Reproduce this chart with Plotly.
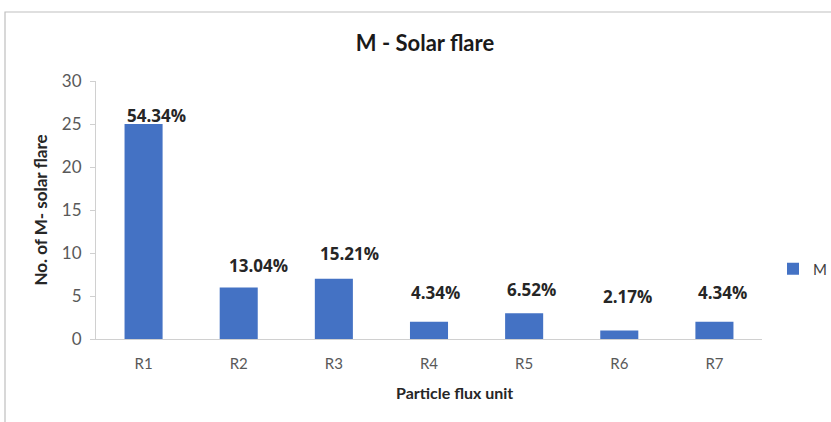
import plotly.graph_objects as go

categories = ["R1", "R2", "R3", "R4", "R5", "R6", "R7"]
counts = [25, 6, 7, 2, 3, 1, 2]
pct_labels = ["54.34%", "13.04%", "15.21%", "4.34%", "6.52%", "2.17%", "4.34%"]
y_ticks = [0, 5, 10, 15, 20, 25, 30]

# label placement (data units), kept separate from data
label_y = [26.0, 8.6, 9.9, 5.35, 5.7, 4.9, 5.35]
label_dx = [0.14, 0.21, 0.16, 0.07, 0.08, 0.09, 0.08]

W, H = 831, 422
L, R, T, B = 96, 69, 81, 83
pw, ph = W - L - R, H - T - B

fig = go.Figure()
fig.add_trace(go.Bar(
    x=list(range(len(categories))), y=counts, name="M",
    marker=dict(color="#4472C4", line=dict(width=0)),
    width=0.4,
))

for i, (lab, ly, dx) in enumerate(zip(pct_labels, label_y, label_dx)):
    fig.add_annotation(x=i + dx, y=ly, text="<b>" + lab + "</b>", showarrow=False,
                       xanchor="center", yanchor="middle",
                       font=dict(family="Open Sans", size=17, color="#262626"),
                       xref="x", yref="y")

# x-axis title (offset to right as in reference)
fig.add_annotation(x=(454 - L) / pw, y=(H - B - 392) / ph, xref="paper", yref="paper",
                   text="<b>Particle flux unit</b>", showarrow=False,
                   xanchor="center", yanchor="middle",
                   font=dict(family="Lato", size=16, color="#262626"))

# chart frame
fig.add_shape(type="rect", xref="paper", yref="paper",
              x0=(5 - L) / pw, x1=(W + 20 - L) / pw,
              y0=(H - B - (H + 20)) / ph, y1=(H - B - 12) / ph,
              line=dict(color="#bfbfbf", width=1.2), fillcolor="rgba(0,0,0,0)", layer="below")

fig.update_layout(
    width=W, height=H,
    margin=dict(l=L, r=R, t=T, b=B, autoexpand=False),
    paper_bgcolor="white", plot_bgcolor="white",
    title=dict(text="<b>M - Solar flare</b>", x=(425) / W, xanchor="center",
               y=1 - 43 / H, yanchor="middle",
               font=dict(family="Lato", size=22, color="#1a1a1a")),
    showlegend=True,
    legend=dict(x=(773 - L) / pw, y=(H - B - 269) / ph, xanchor="left", yanchor="middle",
                font=dict(family="Lato", size=15, color="#404040"),
                itemwidth=30, bgcolor="rgba(0,0,0,0)"),
    bargap=0.6,
)
fig.update_xaxes(
    tickmode="array", tickvals=list(range(len(categories))), ticktext=categories,
    range=[-0.5, len(categories) - 0.5],
    showline=True, linecolor="#d0d0d0", linewidth=1.2,
    showgrid=False, zeroline=False, ticks="",
    tickfont=dict(family="Lato", size=15, color="#595959"),
    ticklabelstandoff=11,
)
fig.update_yaxes(
    range=[0, 30], tickmode="array", tickvals=y_ticks,
    showline=True, linecolor="#d0d0d0", linewidth=1.2,
    showgrid=False, zeroline=False,
    ticks="outside", ticklen=5, tickcolor="#d0d0d0",
    tickfont=dict(family="Lato", size=17, color="#595959"),
    ticklabelstandoff=5,
    title=dict(text="<b>No. of M- solar flare</b>", standoff=9,
               font=dict(family="Lato", size=17, color="#262626")),
)

fig.write_html("out.html", config={"displayModeBar": False},
               post_script="document.body.style.margin='0';")
